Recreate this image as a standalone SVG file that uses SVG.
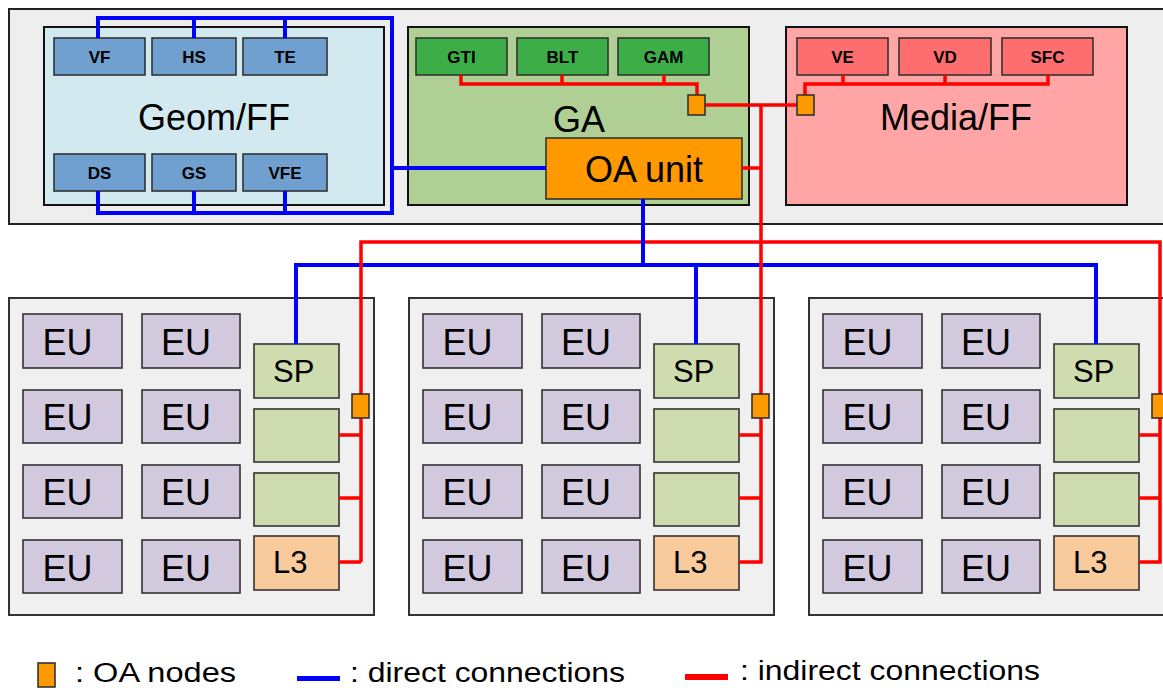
<svg xmlns="http://www.w3.org/2000/svg" width="1163" height="688" viewBox="0 0 1163 688">
  <style>
    text { font-family: "Liberation Sans", Arial, sans-serif; fill: #000; }
    .lbl-s { font-size: 17px; font-weight: bold; text-anchor: middle; }
    .lbl-l { font-size: 36px; }
    .lbl-m { font-size: 31px; }
    .frame { fill: #eeeeee; stroke: #222; stroke-width: 2; }
    .slice { fill: #eff0ef; stroke: #333; stroke-width: 2; }
    .box { stroke: #333; stroke-width: 1.6; }
    .geom { fill: #d2e9f0; stroke: #111; stroke-width: 2; }
    .ga { fill: #afcf95; stroke: #111; stroke-width: 2; }
    .media { fill: #ffa5a5; stroke: #111; stroke-width: 2; }
    .gsub { fill: #6fa0cf; }
    .asub { fill: #3dae47; }
    .msub { fill: #ff6e6e; }
    .oa { fill: #ff9900; stroke: #333; stroke-width: 1.6; }
    .eu { fill: #d3c9df; }
    .sp { fill: #cedcb0; }
    .l3 { fill: #f9cb9c; }
    .direct { fill: none; stroke: #0000ff; stroke-width: 4; stroke-linejoin: miter; }
    .indirect { fill: none; stroke: #ff0000; stroke-width: 3.5; stroke-linejoin: miter; }
  </style>

  <!-- front-end frame -->
  <rect id="frontend" class="frame" x="9" y="9" width="1170" height="215"/>

  <!-- Geom/FF block -->
  <g id="geom-ff">
    <rect class="geom" x="44" y="27" width="340" height="178"/>
    <text class="lbl-l" x="214" y="130" text-anchor="middle">Geom/FF</text>
  </g>
  <g id="vf"><rect class="box gsub" x="54" y="38" width="91" height="37"/><text class="lbl-s" x="99.5" y="63">VF</text></g>
  <g id="hs"><rect class="box gsub" x="152" y="38" width="84" height="37"/><text class="lbl-s" x="194" y="63">HS</text></g>
  <g id="te"><rect class="box gsub" x="243" y="38" width="84" height="37"/><text class="lbl-s" x="285" y="63">TE</text></g>
  <g id="ds"><rect class="box gsub" x="54" y="154" width="91" height="37"/><text class="lbl-s" x="99.5" y="179">DS</text></g>
  <g id="gs"><rect class="box gsub" x="152" y="154" width="84" height="37"/><text class="lbl-s" x="194" y="179">GS</text></g>
  <g id="vfe"><rect class="box gsub" x="243" y="154" width="84" height="37"/><text class="lbl-s" x="285" y="179">VFE</text></g>

  <!-- GA block -->
  <g id="ga">
    <rect class="ga" x="408" y="27" width="341" height="178"/>
    <text class="lbl-l" x="553" y="132">GA</text>
  </g>
  <g id="gti"><rect class="box asub" x="416" y="38" width="91" height="37"/><text class="lbl-s" x="461.5" y="63">GTI</text></g>
  <g id="blt"><rect class="box asub" x="517" y="38" width="91" height="37"/><text class="lbl-s" x="562.5" y="63">BLT</text></g>
  <g id="gam"><rect class="box asub" x="618" y="38" width="91" height="37"/><text class="lbl-s" x="663.5" y="63">GAM</text></g>
  <g id="oa-unit">
    <rect class="box" fill="#ff9900" x="546" y="138" width="196" height="61"/>
    <text class="lbl-l" x="644" y="182" text-anchor="middle">OA unit</text>
  </g>

  <!-- Media/FF block -->
  <g id="media-ff">
    <rect class="media" x="786" y="27" width="341" height="178"/>
    <text class="lbl-l" x="956" y="130" text-anchor="middle">Media/FF</text>
  </g>
  <g id="ve"><rect class="box msub" x="797" y="38" width="91" height="37"/><text class="lbl-s" x="842.5" y="63">VE</text></g>
  <g id="vd"><rect class="box msub" x="899" y="38" width="92" height="37"/><text class="lbl-s" x="945" y="63">VD</text></g>
  <g id="sfc"><rect class="box msub" x="1002" y="38" width="91" height="37"/><text class="lbl-s" x="1047.5" y="63">SFC</text></g>

  <!-- slices: same layout, shifted by 400 px each -->
  <g id="slice-0">
    <rect class="slice" x="9" y="298" width="365" height="317"/>
    <g id="s0-eu0"><rect class="box eu" x="23" y="314" width="99" height="54"/><text class="lbl-l" x="67.5" y="355" text-anchor="middle">EU</text></g>
    <g id="s0-eu1"><rect class="box eu" x="142" y="314" width="98" height="54"/><text class="lbl-l" x="186" y="355" text-anchor="middle">EU</text></g>
    <g id="s0-eu2"><rect class="box eu" x="23" y="390" width="99" height="53"/><text class="lbl-l" x="67.5" y="430" text-anchor="middle">EU</text></g>
    <g id="s0-eu3"><rect class="box eu" x="142" y="390" width="98" height="53"/><text class="lbl-l" x="186" y="430" text-anchor="middle">EU</text></g>
    <g id="s0-eu4"><rect class="box eu" x="23" y="465" width="99" height="53"/><text class="lbl-l" x="67.5" y="505" text-anchor="middle">EU</text></g>
    <g id="s0-eu5"><rect class="box eu" x="142" y="465" width="98" height="53"/><text class="lbl-l" x="186" y="505" text-anchor="middle">EU</text></g>
    <g id="s0-eu6"><rect class="box eu" x="23" y="540" width="99" height="53"/><text class="lbl-l" x="67.5" y="581" text-anchor="middle">EU</text></g>
    <g id="s0-eu7"><rect class="box eu" x="142" y="540" width="98" height="53"/><text class="lbl-l" x="186" y="581" text-anchor="middle">EU</text></g>
    <g id="s0-sp"><rect class="box sp" x="254" y="344" width="85" height="54"/><text class="lbl-m" x="273" y="382">SP</text></g>
    <g id="s0-blk1"><rect class="box sp" x="254" y="409" width="85" height="53"/></g>
    <g id="s0-blk2"><rect class="box sp" x="254" y="473" width="85" height="53"/></g>
    <g id="s0-l3"><rect class="box l3" x="254" y="536" width="85" height="54"/><text class="lbl-m" x="273" y="573">L3</text></g>
  </g>
  <g id="slice-1" transform="translate(400,0)">
    <rect class="slice" x="9" y="298" width="365" height="317"/>
    <g id="s1-eu0"><rect class="box eu" x="23" y="314" width="99" height="54"/><text class="lbl-l" x="67.5" y="355" text-anchor="middle">EU</text></g>
    <g id="s1-eu1"><rect class="box eu" x="142" y="314" width="98" height="54"/><text class="lbl-l" x="186" y="355" text-anchor="middle">EU</text></g>
    <g id="s1-eu2"><rect class="box eu" x="23" y="390" width="99" height="53"/><text class="lbl-l" x="67.5" y="430" text-anchor="middle">EU</text></g>
    <g id="s1-eu3"><rect class="box eu" x="142" y="390" width="98" height="53"/><text class="lbl-l" x="186" y="430" text-anchor="middle">EU</text></g>
    <g id="s1-eu4"><rect class="box eu" x="23" y="465" width="99" height="53"/><text class="lbl-l" x="67.5" y="505" text-anchor="middle">EU</text></g>
    <g id="s1-eu5"><rect class="box eu" x="142" y="465" width="98" height="53"/><text class="lbl-l" x="186" y="505" text-anchor="middle">EU</text></g>
    <g id="s1-eu6"><rect class="box eu" x="23" y="540" width="99" height="53"/><text class="lbl-l" x="67.5" y="581" text-anchor="middle">EU</text></g>
    <g id="s1-eu7"><rect class="box eu" x="142" y="540" width="98" height="53"/><text class="lbl-l" x="186" y="581" text-anchor="middle">EU</text></g>
    <g id="s1-sp"><rect class="box sp" x="254" y="344" width="85" height="54"/><text class="lbl-m" x="273" y="382">SP</text></g>
    <g id="s1-blk1"><rect class="box sp" x="254" y="409" width="85" height="53"/></g>
    <g id="s1-blk2"><rect class="box sp" x="254" y="473" width="85" height="53"/></g>
    <g id="s1-l3"><rect class="box l3" x="254" y="536" width="85" height="54"/><text class="lbl-m" x="273" y="573">L3</text></g>
  </g>
  <g id="slice-2" transform="translate(800,0)">
    <rect class="slice" x="9" y="298" width="380" height="317"/>
    <g id="s2-eu0"><rect class="box eu" x="23" y="314" width="99" height="54"/><text class="lbl-l" x="67.5" y="355" text-anchor="middle">EU</text></g>
    <g id="s2-eu1"><rect class="box eu" x="142" y="314" width="98" height="54"/><text class="lbl-l" x="186" y="355" text-anchor="middle">EU</text></g>
    <g id="s2-eu2"><rect class="box eu" x="23" y="390" width="99" height="53"/><text class="lbl-l" x="67.5" y="430" text-anchor="middle">EU</text></g>
    <g id="s2-eu3"><rect class="box eu" x="142" y="390" width="98" height="53"/><text class="lbl-l" x="186" y="430" text-anchor="middle">EU</text></g>
    <g id="s2-eu4"><rect class="box eu" x="23" y="465" width="99" height="53"/><text class="lbl-l" x="67.5" y="505" text-anchor="middle">EU</text></g>
    <g id="s2-eu5"><rect class="box eu" x="142" y="465" width="98" height="53"/><text class="lbl-l" x="186" y="505" text-anchor="middle">EU</text></g>
    <g id="s2-eu6"><rect class="box eu" x="23" y="540" width="99" height="53"/><text class="lbl-l" x="67.5" y="581" text-anchor="middle">EU</text></g>
    <g id="s2-eu7"><rect class="box eu" x="142" y="540" width="98" height="53"/><text class="lbl-l" x="186" y="581" text-anchor="middle">EU</text></g>
    <g id="s2-sp"><rect class="box sp" x="254" y="344" width="85" height="54"/><text class="lbl-m" x="273" y="382">SP</text></g>
    <g id="s2-blk1"><rect class="box sp" x="254" y="409" width="85" height="53"/></g>
    <g id="s2-blk2"><rect class="box sp" x="254" y="473" width="85" height="53"/></g>
    <g id="s2-l3"><rect class="box l3" x="254" y="536" width="85" height="54"/><text class="lbl-m" x="273" y="573">L3</text></g>
  </g>

  <!-- connectors -->
  <g id="connectors">
    <!-- direct: Geom/FF ring to OA unit -->
    <path class="direct" d="M98 38V18H392V213H98V191 M194 38V18 M285 38V18 M194 191V213 M285 191V213 M392 168H546"/>
    <!-- direct: OA unit to each slice SP -->
    <path class="direct" d="M296 344V265H1096V344 M696 265V344"/>
    <!-- indirect: GA units to GA OA node -->
    <path class="indirect" d="M461 75V84H697V95 M562 75V84 M664 75V84"/>
    <!-- indirect: Media units to Media OA node -->
    <path class="indirect" d="M843 75V84H805V95 M945 75V84 M1048 75V84H843"/>
    <!-- indirect: backbone -->
    <path class="indirect" d="M705 105H797 M742 168H761 M761 105V562H739 M361 562V242H1160V562H1139"/>
    <path class="indirect" d="M339 435H361 M339 498H361 M339 562H361 M739 435H761 M739 498H761 M1139 435H1160 M1139 498H1160"/>
    <!-- direct: OA unit down to the slice bus -->
    <path class="direct" d="M643 199V265"/>
  </g>

  <!-- OA nodes -->
  <g id="oa-ga"><rect class="oa" x="688" y="95" width="17" height="20"/></g>
  <g id="oa-media"><rect class="oa" x="797" y="95" width="17" height="20"/></g>
  <g id="oa-s0"><rect class="oa" x="352" y="394" width="17" height="24"/></g>
  <g id="oa-s1"><rect class="oa" x="752" y="394" width="17" height="24"/></g>
  <g id="oa-s2"><rect class="oa" x="1152" y="394" width="17" height="24"/></g>

  <!-- legend -->
  <g id="legend">
    <rect class="oa" x="38" y="663" width="17" height="24"/>
    <text x="75" y="682" font-size="27" textLength="161" lengthAdjust="spacingAndGlyphs">: OA nodes</text>
    <rect x="297" y="676" width="43" height="5" fill="#0000ff"/>
    <text x="350" y="682" font-size="27" textLength="275" lengthAdjust="spacingAndGlyphs">: direct connections</text>
    <rect x="685" y="674" width="43" height="6" fill="#ff0000"/>
    <text x="740" y="680" font-size="27" textLength="300" lengthAdjust="spacingAndGlyphs">: indirect connections</text>
  </g>
</svg>
